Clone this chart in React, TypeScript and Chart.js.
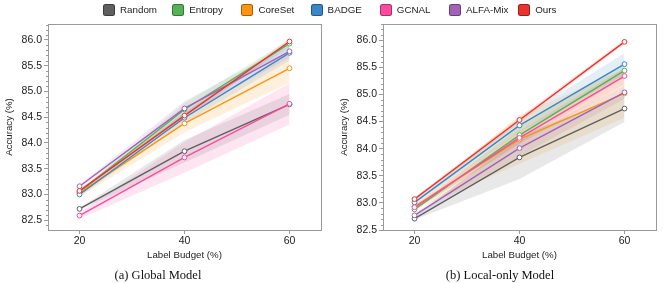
import React, { useEffect, useRef } from "react";
import { Chart, registerables } from "chart.js";

Chart.register(...registerables);

// ---------- data ----------
const budgets = [20, 40, 60];
const xTickValues = [20, 40, 60];
const yMajorTicks = [82.5, 83.0, 83.5, 84.0, 84.5, 85.0, 85.5, 86.0];

const methods = ["Random", "Entropy", "CoreSet", "BADGE", "GCNAL", "ALFA-Mix", "Ours"];
const methodColors = ["#5f5f5f", "#55b258", "#ff9410", "#3a86c8", "#ff4aa0", "#a262b8", "#e8342c"];

// (a) Global Model – mean accuracy
const globalRandom = [82.72, 83.84, 84.75];
const globalEntropy = [83.05, 84.65, 85.93];
const globalCoreSet = [83.03, 84.38, 85.45];
const globalBadge = [83.0, 84.49, 85.75];
const globalGcnal = [82.59, 83.72, 84.76];
const globalAlfa = [83.16, 84.67, 85.78];
const globalOurs = [83.07, 84.53, 85.97];
// (a) Global Model – std (shaded)
const globalRandomStd = [0.02, 0.22, 0.2];
const globalEntropyStd = [0.02, 0.12, 0.07];
const globalCoreSetStd = [0.08, 0.17, 0.28];
const globalBadgeStd = [0.04, 0.1, 0.15];
const globalGcnalStd = [0.06, 0.3, 0.4];
const globalAlfaStd = [0.03, 0.14, 0.12];
const globalOursStd = [0.03, 0.07, 0.05];

// (b) Local-only Model – mean accuracy
const localRandom = [82.71, 83.84, 84.74];
const localEntropy = [82.88, 84.25, 85.44];
const localCoreSet = [82.93, 84.17, 85.02];
const localBadge = [83.01, 84.43, 85.56];
const localGcnal = [82.92, 84.2, 85.34];
const localAlfa = [82.77, 84.01, 85.04];
const localOurs = [83.07, 84.53, 85.97];
// (b) Local-only Model – std (shaded)
const localRandomStd = [0.02, 0.4, 0.25];
const localEntropyStd = [0.02, 0.15, 0.12];
const localCoreSetStd = [0.06, 0.45, 0.45];
const localBadgeStd = [0.03, 0.12, 0.2];
const localGcnalStd = [0.04, 0.12, 0.15];
const localAlfaStd = [0.03, 0.15, 0.12];
const localOursStd = [0.03, 0.05, 0.04];

const globalMeans = [globalRandom, globalEntropy, globalCoreSet, globalBadge, globalGcnal, globalAlfa, globalOurs];
const globalStds = [globalRandomStd, globalEntropyStd, globalCoreSetStd, globalBadgeStd, globalGcnalStd, globalAlfaStd, globalOursStd];
const localMeans = [localRandom, localEntropy, localCoreSet, localBadge, localGcnal, localAlfa, localOurs];
const localStds = [localRandomStd, localEntropyStd, localCoreSetStd, localBadgeStd, localGcnalStd, localAlfaStd, localOursStd];

// ---------- styling ----------
const AXIS = "#9a9a9a";
const TEXT = "#222";
const SANS = "'Liberation Sans', Arial, Helvetica, sans-serif";

function hexA(hex: string, a: number) {
  const n = parseInt(hex.slice(1), 16);
  return `rgba(${(n >> 16) & 255},${(n >> 8) & 255},${n & 255},${a})`;
}

const framePlugin = {
  id: "frame",
  afterDraw(chart: any) {
    const { ctx, chartArea: a } = chart;
    const ys = chart.scales.y;
    ctx.save();
    ctx.strokeStyle = AXIS;
    ctx.lineWidth = 1;
    ctx.strokeRect(Math.round(a.left) + 0.5, Math.round(a.top) + 0.5, Math.round(a.right - a.left), Math.round(a.bottom - a.top));
    ctx.beginPath();
    for (let i = 0; i <= 50; i++) {
      const v = Math.round((82.0 + i * 0.1) * 10) / 10;
      if (Math.abs(v * 2 - Math.round(v * 2)) < 1e-6) continue;
      if (v < ys.min || v > ys.max) continue;
      const py = Math.round(ys.getPixelForValue(v)) + 0.5;
      ctx.moveTo(a.left - 2, py);
      ctx.lineTo(a.left, py);
    }
    ctx.stroke();
    ctx.restore();
  },
};

function buildConfig(means: number[][], stds: number[][], yMin: number, yMax: number, padLeft: number, padRight: number) {
  const datasets: any[] = [];
  methods.forEach((m, i) => {
    const c = methodColors[i];
    datasets.push({
      label: m + " lines",
      data: budgets.map((x, k) => ({ x, y: means[i][k] })),
      borderColor: c,
      backgroundColor: c,
      borderWidth: 1.4,
      pointRadius: 2.4,
      pointBorderWidth: 1,
      pointBackgroundColor: "#fff",
      pointBorderColor: c,
      fill: false,
      tension: 0,
      order: 10 - i,
    });
  });
  methods.forEach((m, i) => {
    const c = methodColors[i];
    datasets.push({
      label: m + " low",
      data: budgets.map((x, k) => ({ x, y: means[i][k] - stds[i][k] })),
      borderWidth: 0,
      pointRadius: 0,
      fill: false,
      order: 100 + i,
    });
    datasets.push({
      label: m + " high",
      data: budgets.map((x, k) => ({ x, y: means[i][k] + stds[i][k] })),
      borderWidth: 0,
      pointRadius: 0,
      backgroundColor: hexA(c, 0.14),
      fill: "-1",
      order: 100 + i,
    });
  });

  return {
    type: "line",
    data: { datasets },
    plugins: [framePlugin],
    options: {
      animation: false,
      responsive: false,
      layout: { padding: { top: 24, bottom: 18, left: padLeft, right: padRight } },
      plugins: { legend: { display: false }, tooltip: { enabled: false } },
      scales: {
        x: {
          type: "linear",
          min: 14,
          max: 66,
          afterBuildTicks: (s: any) => {
            s.ticks = xTickValues.map((v) => ({ value: v }));
          },
          afterFit: (s: any) => {
            s.height = 35;
          },
          ticks: { color: TEXT, font: { family: SANS, size: 10.5 }, padding: 1, maxRotation: 0, callback: (v: any) => String(v) },
          grid: { display: true, drawOnChartArea: false, drawTicks: true, tickLength: 4, color: AXIS },
          border: { display: false },
          title: { display: true, text: "Label Budget (%)", color: TEXT, font: { family: SANS, size: 9.7 }, padding: { top: 2, bottom: 4 } },
        },
        y: {
          type: "linear",
          min: yMin,
          max: yMax,
          afterBuildTicks: (s: any) => {
            s.ticks = yMajorTicks.map((v) => ({ value: v }));
          },
          afterFit: (s: any) => {
            s.width = 48;
          },
          ticks: { color: TEXT, font: { family: SANS, size: 10.5 }, padding: 2, callback: (v: any) => Number(v).toFixed(1) },
          grid: { display: true, drawOnChartArea: false, drawTicks: true, tickLength: 4, color: AXIS },
          border: { display: false },
          title: { display: true, text: "Accuracy (%)", color: TEXT, font: { family: SANS, size: 9.7 }, padding: { top: 4, bottom: 2 } },
        },
      },
    },
  };
}

function Panel({ means, stds, yMin, yMax, left, padLeft, padRight }: any) {
  const ref = useRef<HTMLCanvasElement>(null);
  useEffect(() => {
    const chart = new Chart(ref.current as HTMLCanvasElement, buildConfig(means, stds, yMin, yMax, padLeft, padRight) as any);
    return () => chart.destroy();
  }, []);
  return (
    <canvas
      ref={ref}
      width={332}
      height={283}
      style={{ position: "absolute", left, top: 0, width: 332, height: 283 }}
    />
  );
}

export default function App() {
  return (
    <div style={{ position: "fixed", left: 0, top: 0, width: 664, height: 283, background: "#fff", overflow: "hidden" }}>
      <Panel means={globalMeans} stds={globalStds} yMin={82.31} yMax={86.31} left={0} padLeft={0} padRight={11} />
      <Panel means={localMeans} stds={localStds} yMin={82.5} yMax={86.3} left={332} padLeft={3} padRight={8} />
      {methods.map((m, i) => (
        <div
          key={m}
          style={{
            position: "absolute",
            left: 103 + i * 69.2,
            top: 3,
            height: 13,
            display: "flex",
            alignItems: "center",
            whiteSpace: "nowrap",
            fontFamily: SANS,
            fontSize: 9.8,
            color: TEXT,
          }}
        >
          <span
            style={{
              display: "inline-block",
              width: 10,
              height: 10,
              borderRadius: 2.5,
              background: methodColors[i],
              border: "1px solid rgba(0,0,0,0.35)",
              marginRight: 5,
            }}
          />
          {m}
        </div>
      ))}
      <div style={{ position: "absolute", left: 58, width: 200, top: 267, textAlign: "center", fontFamily: "'Liberation Serif', 'Times New Roman', serif", fontSize: 12.5, color: "#111", lineHeight: "16px" }}>
        (a) Global Model
      </div>
      <div style={{ position: "absolute", left: 400, width: 200, top: 267, textAlign: "center", fontFamily: "'Liberation Serif', 'Times New Roman', serif", fontSize: 12.5, color: "#111", lineHeight: "16px" }}>
        (b) Local-only Model
      </div>
    </div>
  );
}
